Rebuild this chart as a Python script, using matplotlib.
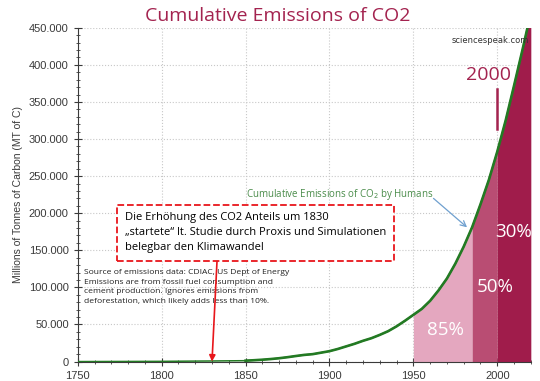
import matplotlib.pyplot as plt
from matplotlib.ticker import MultipleLocator, FuncFormatter
import numpy as np

# Cumulative emissions (millions of tonnes of carbon)
years = [1750, 1800, 1830, 1850, 1855, 1860, 1865, 1870, 1875, 1880, 1885, 1890,
         1895, 1900, 1905, 1910, 1915, 1920, 1925, 1930, 1935, 1940, 1945, 1950,
         1955, 1960, 1965, 1970, 1975, 1980, 1985, 1990, 1995, 2000, 2005, 2010,
         2015, 2020]
cumulative = [0, 300, 800, 1200, 1800, 2500, 3400, 4500, 5900, 7500, 9000, 10000,
              12000, 14000, 17000, 20500, 24000, 28000, 31500, 36000, 41000, 47500,
              55000, 63000, 71000, 82000, 96000, 112000, 132000, 155000, 181000,
              212000, 245000, 283000, 325000, 372000, 420000, 470000]

# shaded periods and their share labels
periods = [(1950, 1985), (1985, 2000), (2000, 2020)]
period_labels = ['85%', '50%', '30%']
period_colors = ['#e4a7bf', '#b94d73', '#a01c4b']

TITLE_COLOR = '#a3234f'
LINE_COLOR = '#237a23'
TICK_COLOR = '#3a3a3a'

years = np.array(years)
cumulative = np.array(cumulative)

fig = plt.figure(figsize=(5.4, 3.81), dpi=100)
ax = fig.add_axes([0.144, 0.051, 0.839, 0.876])

# Shaded areas under the curve
for (start, end), color in zip(periods, period_colors):
    mask = (years >= start) & (years <= end)
    ax.fill_between(years[mask], 0, cumulative[mask], color=color, lw=0, zorder=2)

# Emission curve: thin before 1840, thick afterwards
ax.plot(years, cumulative, color=LINE_COLOR, lw=1.1, zorder=3)
late = years >= 1840
ax.plot(years[late], cumulative[late], color=LINE_COLOR, lw=1.9, zorder=3,
        solid_joinstyle='round')

# Share labels inside the shaded areas
label_pos = [(1969, 42600), (1998.6, 100700), (2009.5, 174800)]
for (x, y), txt in zip(label_pos, period_labels):
    ax.text(x, y, txt, color='white', fontsize=13.5, ha='center', va='center', zorder=4,
            family='Open Sans')

# Axes
ax.set_xlim(1750, 2020)
ax.set_ylim(0, 450000)
ax.xaxis.set_major_locator(MultipleLocator(50))
ax.xaxis.set_minor_locator(MultipleLocator(10))
ax.yaxis.set_major_locator(MultipleLocator(50000))
ax.yaxis.set_minor_locator(MultipleLocator(10000))
ax.yaxis.set_major_formatter(FuncFormatter(lambda v, p: f'{int(v):,}'.replace(',', '.')))
ax.tick_params(axis='both', which='major', direction='inout', length=6,
               labelsize=8, labelcolor=TICK_COLOR, color=TICK_COLOR)
ax.tick_params(axis='both', which='minor', direction='inout', length=3, color=TICK_COLOR)
for lab in ax.get_xticklabels() + ax.get_yticklabels():
    lab.set_family('Liberation Sans')
ax.grid(which='major', color='#c8c8c8', linestyle=':', lw=0.8, zorder=0)
ax.set_axisbelow(True)
for s in ['top', 'right']:
    ax.spines[s].set_visible(False)
for s in ['left', 'bottom']:
    ax.spines[s].set_color(TICK_COLOR)

ax.set_ylabel('Millions of Tonnes of Carbon (MT of C)', fontsize=7.5, color=TICK_COLOR,
              labelpad=4, family='Liberation Sans')

fig.text(0.515, 0.957, 'Cumulative Emissions of CO2', color=TITLE_COLOR,
         fontsize=14, ha='center', va='center', family='Open Sans')

# Watermark and 2000 marker
ax.text(2019, 433000, 'sciencespeak.com', fontsize=6, ha='right', va='center', color='#333333')
ax.text(1995, 387000, '2000', fontsize=14, ha='center', va='center', color=TITLE_COLOR,
        family='Open Sans')
ax.plot([2000, 2000], [313000, 367000], color=TITLE_COLOR, lw=1.8)

# Curve label with arrow
ax.text(1906, 224600, 'Cumulative Emissions of CO$_2$ by Humans', fontsize=7,
        color='#4a8c4a', ha='center', va='center', family='Open Sans')
ax.annotate('', xy=(1982, 181000), xytext=(1962, 220000),
            arrowprops=dict(arrowstyle='->', color='#6fa0cf', lw=0.9, shrinkA=0, shrinkB=0))

# Source text
ax.text(1754, 100700,
        'Source of emissions data: CDIAC, US Dept of Energy\n'
        'Emissions are from fossil fuel consumption and\n'
        'cement production. Ignores emissions from\n'
        'deforestation, which likely adds less than 10%.',
        fontsize=6.1, ha='left', va='center', color='#222222', linespacing=1.5,
        family='Open Sans')

# Red arrow pointing at 1830
ax.annotate('', xy=(1830, 0), xytext=(1833, 136000),
            arrowprops=dict(arrowstyle='-|>', color='#e8161b', lw=1.2, mutation_scale=9,
                            shrinkA=0, shrinkB=0), zorder=5)

# Dashed red box with German note
ax.text(1778, 173500,
        'Die Erhöhung des CO2 Anteils um 1830\n'
        '„startete“ lt. Studie durch Proxis und Simulationen\n'
        'belegbar den Klimawandel',
        fontsize=8, ha='left', va='center', color='black', linespacing=1.5,
        family='Open Sans', zorder=6,
        bbox=dict(boxstyle='square,pad=0.7', facecolor='white', edgecolor='#e8161b',
                  linestyle='--', lw=1.3))

fig.savefig('out.png', dpi=100)
